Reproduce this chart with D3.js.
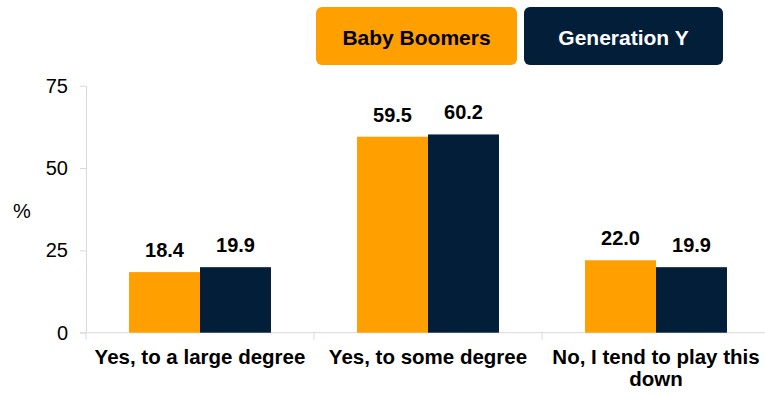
<!DOCTYPE html>
<html>
<head>
<meta charset="utf-8">
<script src="https://cdn.jsdelivr.net/npm/d3@7"></script>
<style>
  html, body { margin: 0; padding: 0; background: #fff; }
  svg { display: block; font-family: "Liberation Sans", Arial, sans-serif; }
</style>
</head>
<body>
<svg id="chart" width="765" height="394"></svg>
<script>
// Survey answers and the share (%) of each generation giving them
const categories = ["Yes, to a large degree", "Yes, to some degree", "No, I tend to play this down"];
const seriesNames = ["Baby Boomers", "Generation Y"];
const babyBoomers = [18.4, 59.5, 22.0];
const generationY = [19.9, 60.2, 19.9];
const yTicks = [0, 25, 50, 75];
const yLabel = "%";

const colors = { "Baby Boomers": "#FFA000", "Generation Y": "#031E38" };
const legendText = { "Baby Boomers": "#000000", "Generation Y": "#FFFFFF" };

const seriesValues = [babyBoomers, generationY];
const rows = categories.map((c, i) => ({
  category: c,
  values: seriesNames.map((s, j) => ({ series: s, value: seriesValues[j][i] }))
}));

const svg = d3.select("#chart");
const axisColor = "#D9D9D9";

const x0 = d3.scaleBand().domain(categories).range([86, 770]).padding(0);
const x1 = d3.scaleBand().domain(seriesNames).range([0, x0.bandwidth()])
  .paddingInner(0).paddingOuter(0.606);
const y = d3.scaleLinear().domain([0, 75]).range([332.7, 85.7]);

// Y axis
const yAxis = svg.append("g").attr("transform", "translate(86,0)")
  .call(d3.axisLeft(y).tickValues(yTicks).tickSize(6).tickPadding(12).tickSizeOuter(0));
yAxis.select(".domain").attr("stroke", axisColor);
yAxis.selectAll(".tick line").attr("stroke", axisColor);
yAxis.selectAll(".tick text")
  .attr("font-size", 20).attr("fill", "#000")
  .attr("font-family", "'Liberation Sans', Arial, sans-serif");

svg.append("text")
  .attr("x", 22).attr("y", 211)
  .attr("text-anchor", "middle").attr("dominant-baseline", "central")
  .attr("font-size", 20).attr("fill", "#000")
  .text(yLabel);

// X axis: boundary ticks between categories
const xAxisG = svg.append("g");
xAxisG.append("line")
  .attr("x1", 80).attr("x2", 765)
  .attr("y1", y(0)).attr("y2", y(0))
  .attr("stroke", axisColor);
const bounds = categories.map(c => x0(c)).concat([x0(categories[categories.length - 1]) + x0.bandwidth()]);
xAxisG.selectAll("line.tick").data(bounds).join("line")
  .attr("class", "tick")
  .attr("x1", d => d).attr("x2", d => d)
  .attr("y1", y(0)).attr("y2", y(0) + 7)
  .attr("stroke", axisColor);

// Category labels (wrapped to the band width)
const catLabels = svg.append("g").selectAll("text").data(categories).join("text")
  .attr("x", d => x0(d) + x0.bandwidth() / 2)
  .attr("y", 364)
  .attr("text-anchor", "middle")
  .attr("font-size", 20.5).attr("font-weight", "bold").attr("fill", "#000");

catLabels.each(function(d) {
  const el = d3.select(this);
  const maxW = x0.bandwidth();
  const words = d.split(" ");
  let line = [];
  let lines = [];
  let tspan = el.append("tspan").attr("x", x0(d) + maxW / 2);
  for (const w of words) {
    line.push(w);
    tspan.text(line.join(" "));
    if (tspan.node().getComputedTextLength() > maxW && line.length > 1) {
      line.pop();
      lines.push(line.join(" "));
      line = [w];
    }
  }
  lines.push(line.join(" "));
  tspan.remove();
  lines.forEach((t, i) => {
    el.append("tspan")
      .attr("x", x0(d) + maxW / 2)
      .attr("dy", i === 0 ? 0 : 22)
      .text(t);
  });
});

// Bars
const groups = svg.append("g").selectAll("g").data(rows).join("g")
  .attr("transform", d => `translate(${x0(d.category)},0)`);

groups.selectAll("rect").data(d => d.values).join("rect")
  .attr("x", d => x1(d.series))
  .attr("width", x1.bandwidth())
  .attr("y", d => y(d.value))
  .attr("height", d => y(0) - y(d.value))
  .attr("fill", d => colors[d.series]);

// Value labels
groups.selectAll("text").data(d => d.values).join("text")
  .attr("x", d => x1(d.series) + x1.bandwidth() / 2)
  .attr("y", d => y(d.value) - 15)
  .attr("text-anchor", "middle")
  .attr("font-size", 20).attr("font-weight", "bold").attr("fill", "#000")
  .text(d => d3.format(".1f")(d.value));

// Legend as filled rounded boxes
const legendBoxes = [
  { name: seriesNames[0], x: 316, w: 201 },
  { name: seriesNames[1], x: 524, w: 199 }
];
const legend = svg.append("g").selectAll("g").data(legendBoxes).join("g");
legend.append("rect")
  .attr("x", d => d.x).attr("y", 7)
  .attr("width", d => d.w).attr("height", 58)
  .attr("rx", 6).attr("ry", 6)
  .attr("fill", d => colors[d.name]);
legend.append("text")
  .attr("x", d => d.x + d.w / 2).attr("y", 45)
  .attr("text-anchor", "middle")
  .attr("font-size", 21).attr("font-weight", "bold")
  .attr("fill", d => legendText[d.name])
  .text(d => d.name);
</script>
</body>
</html>
